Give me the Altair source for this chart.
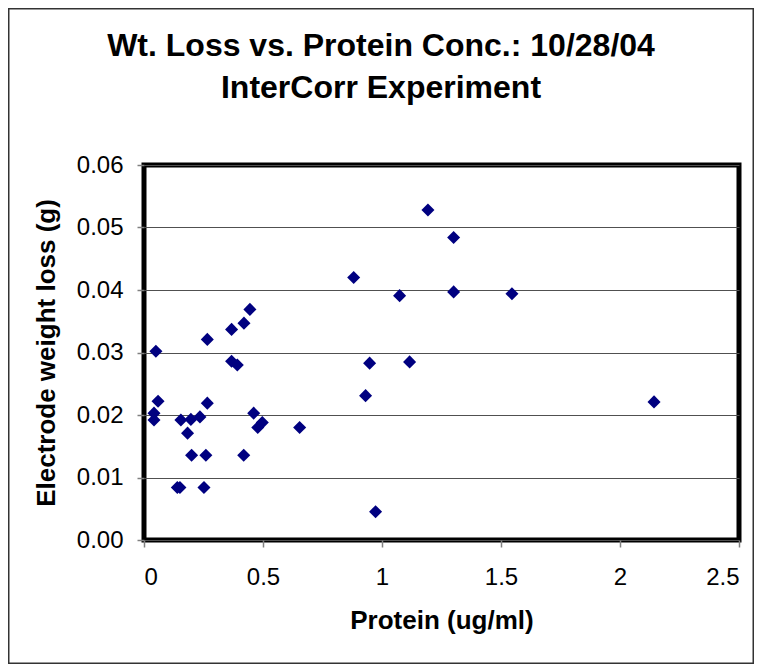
import altair as alt
import pandas as pd

protein = [0.050, 0.059, 0.042, 0.042, 0.155, 0.197, 0.235, 0.183, 0.200, 0.260,
           0.140, 0.151, 0.252, 0.266, 0.266, 0.368, 0.420, 0.445, 0.368, 0.392,
           0.461, 0.478, 0.497, 0.419, 1.193, 0.881, 1.074, 0.948, 1.116, 0.931,
           0.654, 0.973, 1.301, 1.301, 1.546, 2.143]
weight_loss = [0.0302, 0.0222, 0.0203, 0.0192, 0.0192, 0.0193, 0.0197, 0.0171, 0.01355, 0.01355,
               0.0084, 0.0084, 0.0084, 0.0321, 0.0219, 0.0337, 0.0347, 0.0369, 0.0286, 0.0280,
               0.0203, 0.0180, 0.0188, 0.01355, 0.0528, 0.0420, 0.0391, 0.0283, 0.0285, 0.0231,
               0.0180, 0.00453, 0.0484, 0.0397, 0.0394, 0.0221]

x_ticks = [0, 0.5, 1, 1.5, 2, 2.5]
y_ticks = [0, 0.01, 0.02, 0.03, 0.04, 0.05, 0.06]
title_lines = ["Wt. Loss vs. Protein Conc.: 10/28/04", "InterCorr Experiment"]

df = pd.DataFrame({"protein": protein, "loss": weight_loss})

FONT = "Liberation Sans"

points = alt.Chart(df).mark_point(
    shape="diamond", filled=True, color="#000080", size=170, opacity=1
).encode(
    x=alt.X("protein:Q", scale=alt.Scale(domain=[0, 2.5], nice=False, zero=True),
            axis=alt.Axis(values=x_ticks, format="~g", grid=False, domain=False,
                          tickSize=7, tickColor="#808080", tickWidth=1.5,
                          labelFontSize=24, labelFont=FONT, labelColor="black",
                          labelPadding=18, title="Protein (ug/ml)",
                          titleFont=FONT, titleFontSize=26, titleFontWeight="bold",
                          titleColor="black", titlePadding=18)),
    y=alt.Y("loss:Q", scale=alt.Scale(domain=[0, 0.06], nice=False),
            axis=alt.Axis(values=y_ticks, format=".2f", grid=True, gridColor="#505050",
                          gridWidth=1.2, domain=False,
                          tickSize=7, tickColor="#808080", tickWidth=1.5,
                          labelFontSize=24, labelFont=FONT, labelColor="black",
                          labelPadding=14, title="Electrode weight loss (g)",
                          titleFont=FONT, titleFontSize=26, titleFontWeight="bold",
                          titleColor="black", titlePadding=17)),
)

border = alt.Chart(alt.Data(values=[{"a": 1}])).mark_rect(
    fill=None, stroke="#333333", strokeWidth=1.5
).encode(
    x=alt.value(-135.25), x2=alt.value(609.25),
    y=alt.value(-156.25), y2=alt.value(498.25),
)

title = alt.Chart(alt.Data(values=[{"a": 1}])).mark_text(
    text=title_lines, font=FONT, fontSize=32, fontWeight="bold", color="black",
    align="center", baseline="alphabetic", lineHeight=42,
).encode(
    x=alt.value(237), y=alt.value(-109),
)

chart = alt.layer(border, title, points).properties(
    width=595, height=375,
    padding={"left": 136, "top": 157, "right": 15, "bottom": 124},
    autosize=alt.AutoSizeParams(type="none"),
).configure(
    background="white"
).configure_view(
    stroke="black", strokeWidth=5
)

chart.save("out.html", embed_options={"renderer": "svg", "actions": False})
